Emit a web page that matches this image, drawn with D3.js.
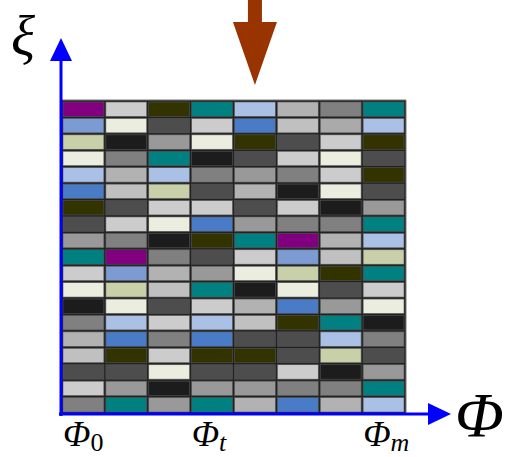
<!DOCTYPE html>
<html><head><meta charset="utf-8">
<script src="https://cdn.jsdelivr.net/npm/d3@7"></script>
<style>body{margin:0;background:#fff}svg{display:block}</style>
</head><body>
<script>
// palette keys -> colors
const paletteKeys = ["P","LG","OL","T","LB","S","G","MB","CR","DG","B","SG","BK","G9","GC","GA"];
const paletteColors = ["#800080","#cccccc","#333300","#008080","#aac0e4","#b2b2b2","#808080","#7b9bd2","#ebedde","#4d4d4d","#4a7bc6","#c8d0aa","#1c1c1c","#999999","#c0c0c0","#aaaaaa"];
const columns = [0,1,2,3,4,5,6,7];
const rows = d3.range(19);
const cellColors = [
 ["P","LG","OL","T","LB","S","G","T"],
 ["MB","CR","DG","LG","B","GC","GA","LB"],
 ["SG","BK","G9","CR","OL","DG","LG","OL"],
 ["CR","G","T","BK","DG","LG","CR","DG"],
 ["LB","S","LB","G","G9","G","LG","OL"],
 ["B","GC","SG","DG","S","BK","CR","DG"],
 ["OL","DG","LG","LG","DG","LG","BK","G9"],
 ["DG","LG","CR","B","G9","G","G","T"],
 ["G9","G","BK","OL","T","P","S","LB"],
 ["T","P","G","DG","LG","MB","GC","SG"],
 ["LG","MB","S","G9","CR","SG","OL","T"],
 ["CR","SG","GC","T","BK","CR","DG","LG"],
 ["BK","CR","DG","LG","S","B","G9","CR"],
 ["G","LB","LG","LB","GC","OL","T","BK"],
 ["S","B","G","B","DG","DG","LB","G"],
 ["GC","OL","LG","OL","OL","DG","SG","DG"],
 ["DG","DG","CR","DG","DG","LG","BK","G9"],
 ["LG","G9","BK","G9","G9","G","G","T"],
 ["G","T","G9","T","S","B","S","LB"]
];
const tickColumns = [0,3,7];
const tickSubs = ["0","t","m"];
const markedColumn = 4;

const W=509,H=457;
const svg=d3.select("body").append("svg").attr("width",W).attr("height",H);
const color=d3.scaleOrdinal().domain(paletteKeys).range(paletteColors);
const x=d3.scaleBand().domain(columns).range([62,405]).padding(0);
const y=d3.scaleBand().domain(rows).range([101,413]).padding(0);

const cells=[];
rows.forEach(r=>columns.forEach(c=>cells.push({r,c,k:cellColors[r][c]})));
svg.append("rect").attr("x",61).attr("y",100).attr("width",345).attr("height",314).attr("fill","#222");
svg.selectAll("rect.cell").data(cells).join("rect").attr("class","cell")
 .attr("x",d=>x(d.c)+1).attr("y",d=>y(d.r)+1)
 .attr("width",x.bandwidth()-2).attr("height",y.bandwidth()-2)
 .attr("fill",d=>color(d.k)).attr("stroke","#555").attr("stroke-width",0.6);
// top/right light edge
svg.append("line").attr("x1",61).attr("x2",406).attr("y1",100).attr("y2",100).attr("stroke","#777").attr("stroke-width",1);
svg.append("line").attr("x1",406).attr("x2",406).attr("y1",100).attr("y2",414).attr("stroke","#777").attr("stroke-width",1);

const blue="#0000ff";
// y axis
svg.append("line").attr("x1",61).attr("x2",61).attr("y1",416).attr("y2",56).attr("stroke",blue).attr("stroke-width",3);
svg.append("path").attr("d","M61,38 L72,61 L50,61 Z").attr("fill",blue);
// x axis
svg.append("line").attr("x1",59).attr("x2",432).attr("y1",414).attr("y2",414).attr("stroke",blue).attr("stroke-width",3);
svg.append("path").attr("d","M451,414 L428,403 L428,425 Z").attr("fill",blue);

// brown arrow
const ax=x(markedColumn)+x.bandwidth()/2;
svg.append("path").attr("d",`M${ax-7},0 L${ax+7},0 L${ax+7},22 L${ax+22},22 L${ax},85 L${ax-22},22 L${ax-7},22 Z`).attr("fill","#993300");

const serif="'Liberation Serif','DejaVu Serif',serif";
svg.append("text").attr("x",11).attr("y",55).attr("font-family",serif).attr("font-style","italic").attr("font-size",56).text("ξ");
svg.append("text").attr("x",455).attr("y",437).attr("font-family",serif).attr("font-style","italic").attr("font-size",64).text("Φ");

tickColumns.forEach((c,i)=>{
  const t=svg.append("text").attr("x",x(c)+1).attr("y",446).attr("font-family",serif).attr("font-size",36);
  t.append("tspan").attr("font-style","italic").text("Φ");
  t.append("tspan").attr("font-size",26).attr("dy",5).attr("font-style",i===0?"normal":"italic").text(tickSubs[i]);
});
</script>
</body></html>
